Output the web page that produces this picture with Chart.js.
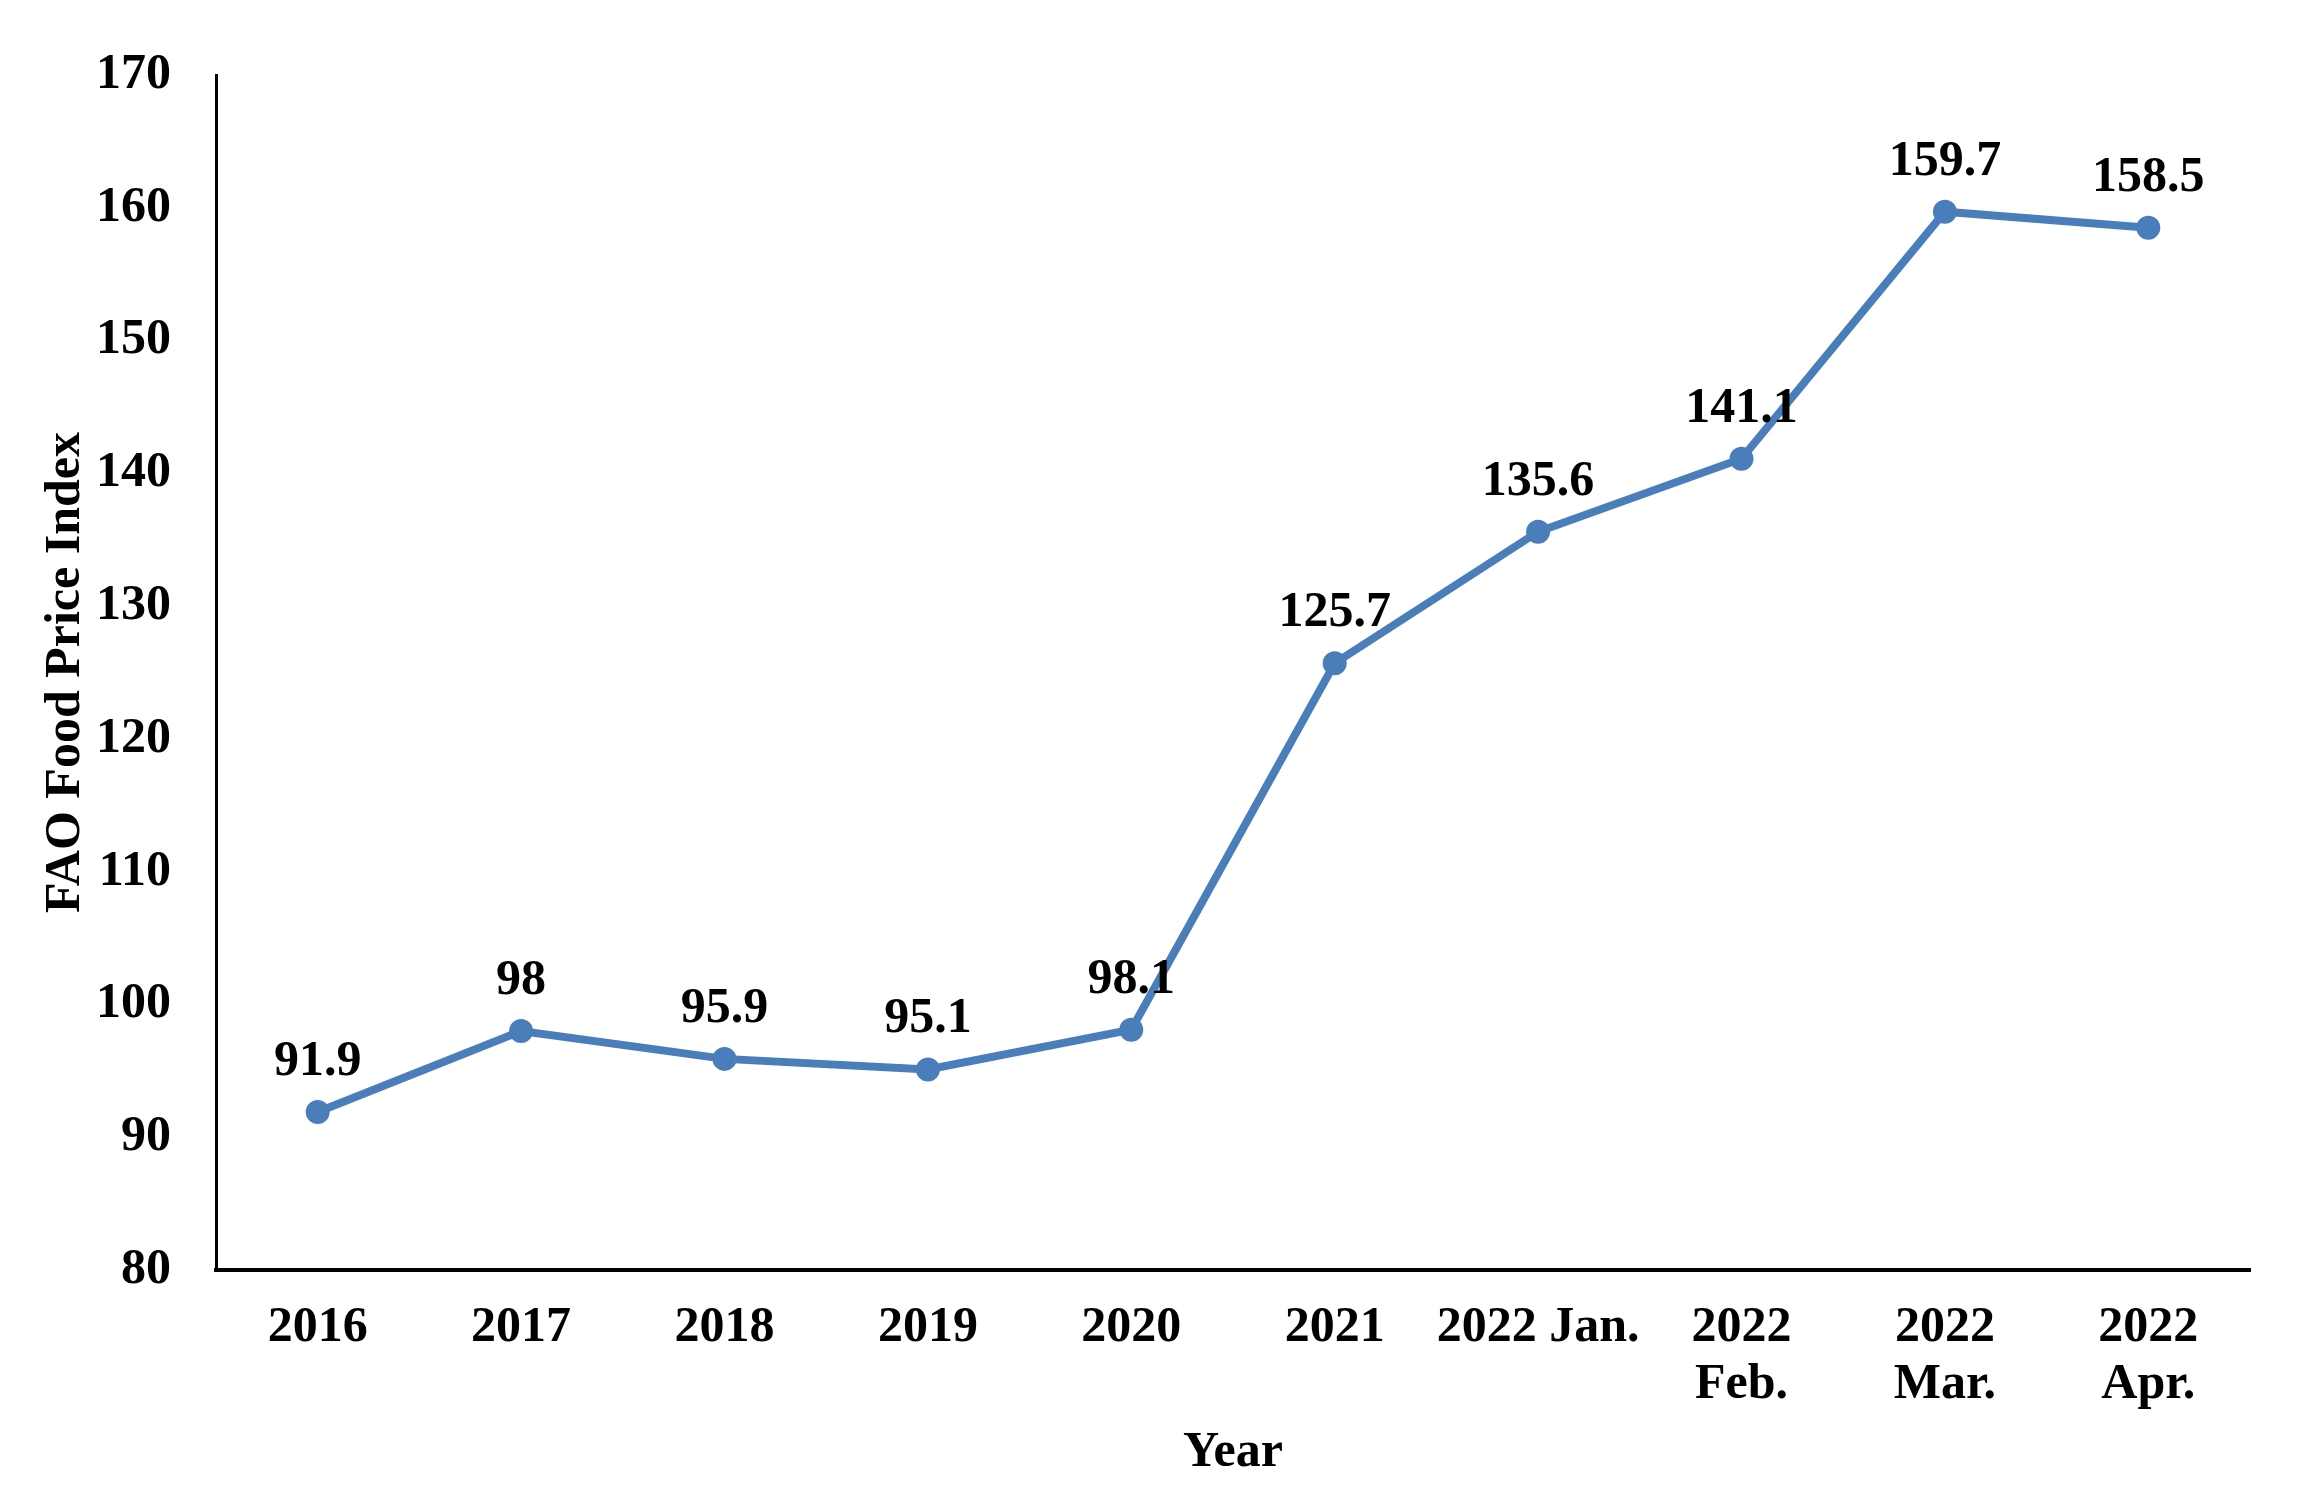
<!DOCTYPE html>
<html>
<head>
<meta charset="utf-8">
<script src="https://cdn.jsdelivr.net/npm/chart.js@4.4.1/dist/chart.umd.min.js"></script>
<style>
  html, body { margin: 0; padding: 0; background: #fff; }
  canvas { display: block; }
</style>
</head>
<body>
<canvas id="c" width="2302" height="1505"></canvas>
<script>
const categories = ['2016', '2017', '2018', '2019', '2020', '2021', '2022 Jan.', ['2022', 'Feb.'], ['2022', 'Mar.'], ['2022', 'Apr.']];
const priceIndex = [91.9, 98, 95.9, 95.1, 98.1, 125.7, 135.6, 141.1, 159.7, 158.5];
const valueLabels = ['91.9', '98', '95.9', '95.1', '98.1', '125.7', '135.6', '141.1', '159.7', '158.5'];
const yMin = 80, yMax = 170, yStep = 10;

const FONT = 'Liberation Serif, Times New Roman, serif';
const BLUE = '#4A7EBB';

const labelPlugin = {
  id: 'valueLabels',
  afterDatasetsDraw(chart) {
    const ctx = chart.ctx;
    const meta = chart.getDatasetMeta(0);
    ctx.save();
    ctx.font = 'bold 50px ' + FONT;
    ctx.fillStyle = '#000';
    ctx.textAlign = 'center';
    ctx.textBaseline = 'middle';
    meta.data.forEach((pt, i) => {
      ctx.fillText(valueLabels[i], pt.x, pt.y - 50);
    });
    ctx.restore();
  }
};

new Chart(document.getElementById('c'), {
  type: 'line',
  data: {
    labels: categories,
    datasets: [{
      data: priceIndex,
      borderColor: BLUE,
      backgroundColor: BLUE,
      borderWidth: 8,
      pointRadius: 8,
      pointHoverRadius: 8,
      pointBackgroundColor: BLUE,
      pointBorderColor: BLUE,
      tension: 0,
      fill: false
    }]
  },
  options: {
    responsive: false,
    devicePixelRatio: 1,
    animation: false,
    layout: { padding: { left: 0, top: 62, right: 52, bottom: 0 } },
    plugins: {
      legend: { display: false },
      tooltip: { enabled: false }
    },
    scales: {
      x: {
        type: 'category',
        offset: true,
        grid: { display: false, drawTicks: false },
        border: { display: true, color: '#000', width: 4 },
        ticks: {
          color: '#000',
          padding: 30,
          maxRotation: 0,
          autoSkip: false,
          font: { family: FONT, size: 50, weight: 'bold', lineHeight: 1.14 }
        },
        title: {
          display: true,
          text: 'Year',
          color: '#000',
          padding: { top: 0, bottom: 22 },
          font: { family: FONT, size: 50, weight: 'bold', lineHeight: 1.2 }
        },
        afterFit(scale) { scale.height = 235; }
      },
      y: {
        min: yMin,
        max: yMax,
        grid: { display: false, drawTicks: false },
        border: { display: true, color: '#000', width: 3 },
        ticks: {
          stepSize: yStep,
          color: '#000',
          padding: 45,
          font: { family: FONT, size: 50, weight: 'bold' }
        },
        title: {
          display: true,
          text: 'FAO Food Price Index',
          color: '#000',
          padding: { top: 36, bottom: 0 },
          font: { family: FONT, size: 50, weight: 'bold', lineHeight: 1.2 }
        },
        afterFit(scale) { scale.width = 216; }
      }
    }
  },
  plugins: [labelPlugin]
});
</script>
</body>
</html>
